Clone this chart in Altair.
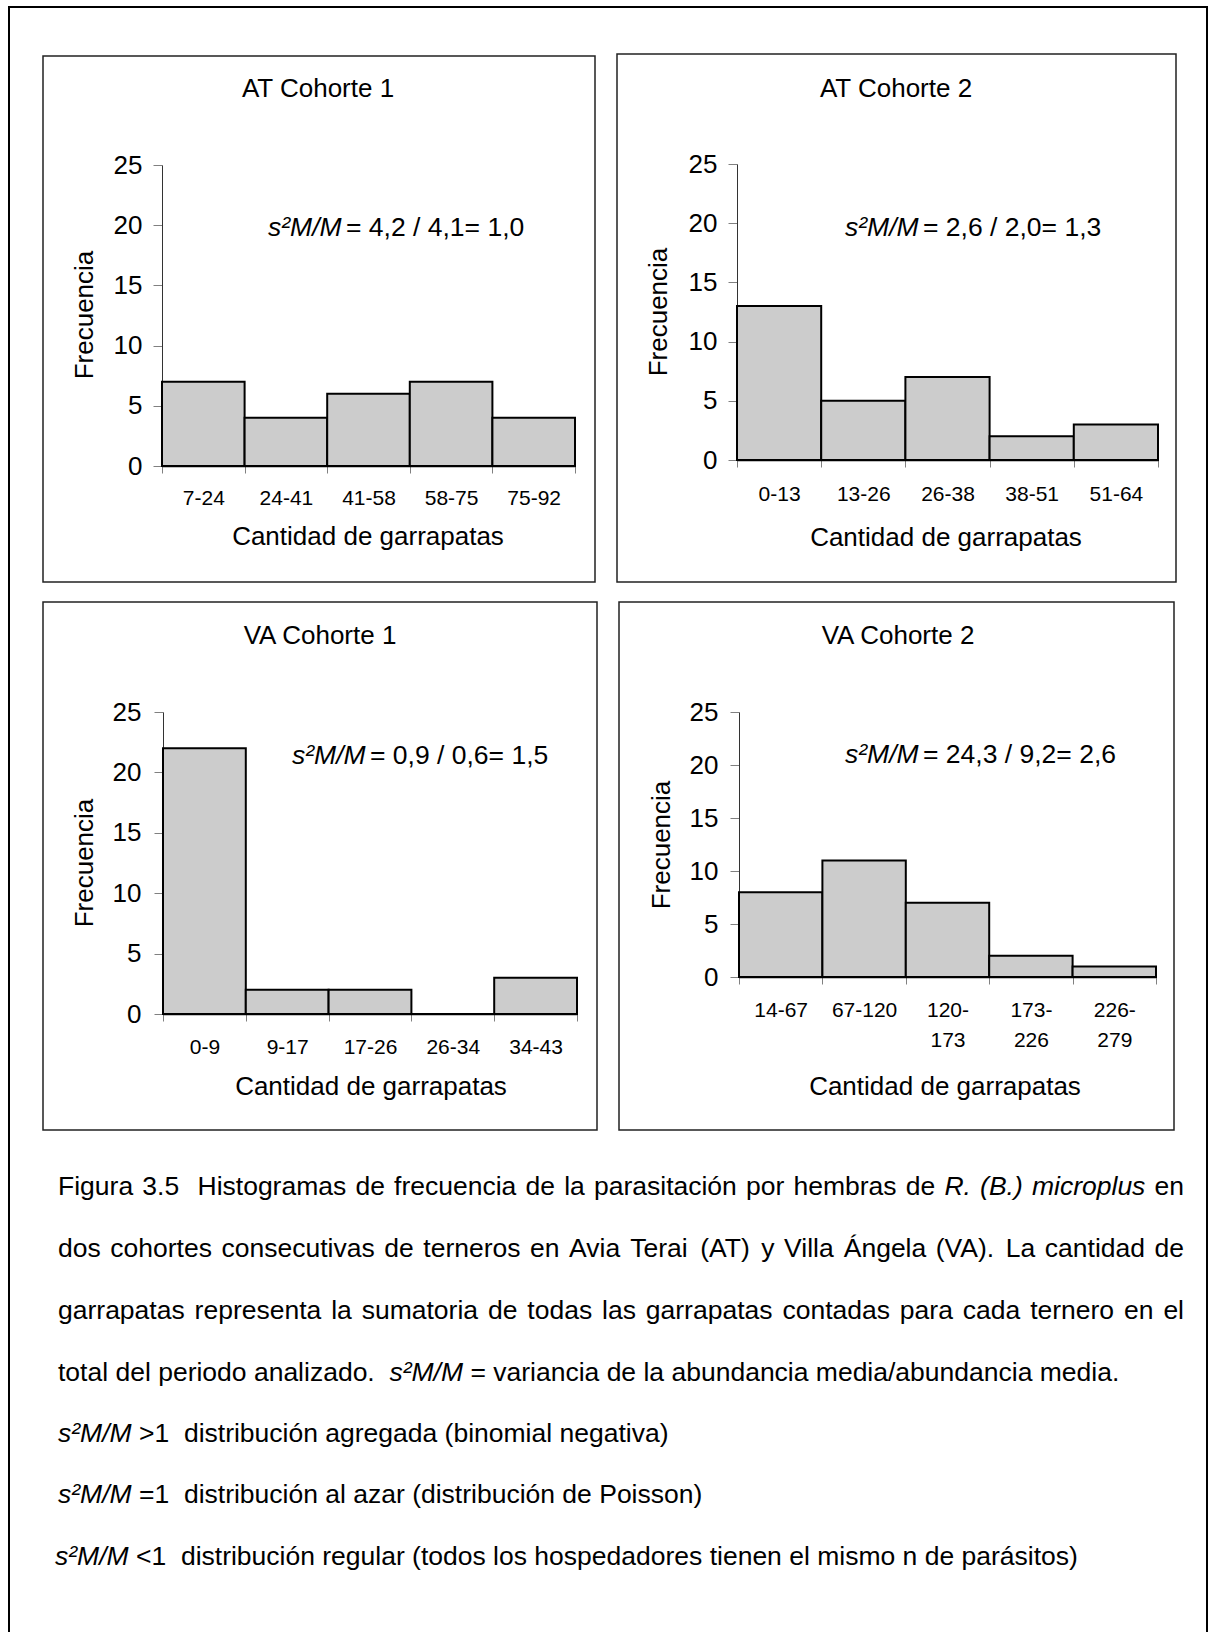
import altair as alt
import pandas as pd

FONT = "Liberation Sans"
W, H = 1216, 1632

# ---------------- data ----------------
at1_bins = ["7-24", "24-41", "41-58", "58-75", "75-92"]
at1_freq = [7, 4, 6, 7, 4]
at2_bins = ["0-13", "13-26", "26-38", "38-51", "51-64"]
at2_freq = [13, 5, 7, 2, 3]
va1_bins = ["0-9", "9-17", "17-26", "26-34", "34-43"]
va1_freq = [22, 2, 2, 0, 3]
va2_bins = ["14-67", "67-120", "120-173", "173-226", "226-279"]
va2_freq = [8, 11, 7, 2, 1]

panel_titles = ["AT Cohorte 1", "AT Cohorte 2", "VA Cohorte 1", "VA Cohorte 2"]
ratio_lhs = "s\u00b2M/M"
ratio_rhs = ["= 4,2 / 4,1= 1,0", "= 2,6 / 2,0= 1,3", "= 0,9 / 0,6= 1,5", "= 24,3 / 9,2= 2,6"]
y_ticks = [0, 5, 10, 15, 20, 25]
y_title = "Frecuencia"
x_title = "Cantidad de garrapatas"

# caption lines: list of (text, italic) runs; flag = justified
caption = [
    ([("Figura 3.5  Histogramas de frecuencia de la parasitaci\u00f3n por hembras de", False),
      ("R. (B.) microplus", True), ("en", False)], True),
    ([("dos cohortes consecutivas de terneros en Avia Terai (AT) y Villa \u00c1ngela (VA). La cantidad de", False)], True),
    ([("garrapatas representa la sumatoria de todas las garrapatas contadas para cada ternero en el", False)], True),
    ([("total del periodo analizado. ", False), ("s\u00b2M/M", True),
      ("= variancia de la abundancia media/abundancia media.", False)], False),
    ([("s\u00b2M/M", True), (">1  distribuci\u00f3n agregada (binomial negativa)", False)], False),
    ([("s\u00b2M/M", True), ("=1  distribuci\u00f3n al azar (distribuci\u00f3n de Poisson)", False)], False),
    ([("s\u00b2M/M", True), ("<1  distribuci\u00f3n regular (todos los hospedadores tienen el mismo n de par\u00e1sitos)", False)], False),
]

panel_data = [(at1_bins, at1_freq), (at2_bins, at2_freq), (va1_bins, va1_freq), (va2_bins, va2_freq)]

# ---------------- layout (pixels) ----------------
layout = [
    dict(box=(43, 56, 595, 582), xr=(162, 575), yr=(466, 165), title=(318, 89), ann=(268, 228),
         ytitle=(85, 315), xtitle=(368, 537), xpad=14, ypad=11),
    dict(box=(617, 54, 1176, 582), xr=(737, 1158), yr=(460, 164), title=(896, 89), ann=(845, 228),
         ytitle=(659, 312), xtitle=(946, 538), xpad=16, ypad=11),
    dict(box=(43, 602, 597, 1130), xr=(163, 577), yr=(1014, 712), title=(320, 636), ann=(292, 756),
         ytitle=(85, 863), xtitle=(371, 1087), xpad=15, ypad=13),
    dict(box=(619, 602, 1174, 1130), xr=(739, 1156), yr=(977, 712), title=(898, 636), ann=(845, 755),
         ytitle=(662, 845), xtitle=(945, 1087), xpad=15, ypad=12),
]

CAP_SIZE = 26.5
CAP_LEFT, CAP_RIGHT = 58, 1184
CAP_Y = [1187, 1249, 1311, 1373, 1434, 1495, 1557]
CAP_X = [58, 58, 58, 58, 58, 58, 55]

# Arial / Liberation Sans advance widths (per 1000 em) for justification
ADV = {}
for chars, w in [("ijl\u00ed", 222), (" ftI,./:;!\u00a0", 278), ("r()-\u00b2", 333),
                 ("cksvxyzJ", 500), ("abdeghnopqu0123456789\u00e1\u00e9\u00f3\u00faL?\u00f1", 556),
                 ("<=>+", 584), ("FTZ", 611), ("ABEKPSVXY\u00c1", 667), ("CDHNRUw", 722),
                 ("GOQ", 778), ("mM", 833), ("W", 944)]:
    for c in chars:
        ADV[c] = w


def text_width(s, size):
    return sum(ADV.get(c, 556) for c in s) * size / 1000.0


def layout_caption():
    rows = []
    for li, (runs, justify) in enumerate(caption):
        tokens = []
        for text, ital in runs:
            for wd in text.split(" "):
                tokens.append((wd, ital))
        sp = text_width(" ", CAP_SIZE)
        x0 = CAP_X[li]
        natural = sum(text_width(t, CAP_SIZE) for t, _ in tokens) + sp * (len(tokens) - 1)
        extra = (CAP_RIGHT - x0 - natural) / (len(tokens) - 1) if justify else 0.0
        x = x0
        for t, ital in tokens:
            if t:
                rows.append({"text": t, "x": round(x, 2), "y": CAP_Y[li], "italic": ital})
            x += text_width(t, CAP_SIZE) + sp + extra
    return pd.DataFrame(rows)


dummy = pd.DataFrame({"k": [0]})

label_expr = ("length(datum.label) > 6 ? [slice(datum.label, 0, indexof(datum.label, '-') + 1), "
              "slice(datum.label, indexof(datum.label, '-') + 1)] : datum.label")


def txt(s, x, y, size=26, align="left", style="normal", angle=0, baseline="middle"):
    return alt.Chart(dummy).mark_text(
        text=s, font=FONT, fontSize=size, fontStyle=style, align=align,
        baseline=baseline, angle=angle, color="#000000"
    ).encode(x=alt.value(x), y=alt.value(y))


def frame(x0, y0, x1, y1, color, width):
    return alt.Chart(dummy).mark_rect(
        fill="#ffffff", fillOpacity=0, stroke=color, strokeWidth=width
    ).encode(x=alt.value(x0), x2=alt.value(x1), y=alt.value(y0), y2=alt.value(y1))


def bars(bins, freq, L):
    df = pd.DataFrame({"bin": bins, "freq": freq})
    x0, x1 = L["xr"]
    y0, y25 = L["yr"]
    return alt.Chart(df).mark_bar(fill="#cccccc", stroke="#000000", strokeWidth=2).encode(
        x=alt.X("bin:N", sort=bins,
                scale=alt.Scale(range=[x0, x1], paddingInner=0, paddingOuter=0),
                axis=alt.Axis(orient="bottom", offset=y0 - H, title=None, labelAngle=0,
                              tickBand="extent", tickSize=7, tickColor="#808080", tickWidth=1,
                              domainColor="#000000", domainWidth=1.5,
                              labelFont=FONT, labelFontSize=21, labelColor="#000000",
                              labelPadding=L["xpad"], labelOverlap=False, labelLineHeight=30,
                              labelExpr=label_expr)),
        y=alt.Y("freq:Q",
                scale=alt.Scale(domain=[0, 25], range=[y0, y25], nice=False, zero=True),
                axis=alt.Axis(orient="left", offset=-x0, values=y_ticks, title=None, grid=False,
                              tickSize=9, tickColor="#808080", tickWidth=1,
                              domainColor="#333333", domainWidth=1,
                              labelFont=FONT, labelFontSize=26, labelColor="#000000",
                              labelPadding=L["ypad"])),
    )


layers = []
# outer border (its bottom edge lies below the page)
layers.append(frame(9, 7, 1207, 1660, "#000000", 2))

for i, L in enumerate(layout):
    bx0, by0, bx1, by1 = L["box"]
    layers.append(frame(bx0, by0, bx1, by1, "#222222", 1.5))
    layers.append(bars(panel_data[i][0], panel_data[i][1], L))
    layers.append(txt(panel_titles[i], L["title"][0], L["title"][1], size=26, align="center"))
    ax, ay = L["ann"]
    layers.append(txt(ratio_lhs, ax, ay, size=26.5, style="italic"))
    layers.append(txt(ratio_rhs[i], ax + 78, ay, size=26.5))
    layers.append(txt(y_title, L["ytitle"][0], L["ytitle"][1], size=26, align="center", angle=270))
    layers.append(txt(x_title, L["xtitle"][0], L["xtitle"][1], size=26, align="center"))

# caption, word by word (justified lines)
cap = layout_caption()
for ital in (False, True):
    sub = cap[cap["italic"] == ital][["text", "x", "y"]]
    layers.append(
        alt.Chart(sub).mark_text(
            font=FONT, fontSize=CAP_SIZE, fontStyle="italic" if ital else "normal",
            align="left", baseline="middle", color="#000000"
        ).encode(
            x=alt.X("x:Q", scale=None, axis=None),
            y=alt.Y("y:Q", scale=None, axis=None),
            text="text:N",
        )
    )

chart = alt.layer(*layers).properties(
    width=W, height=H, autosize=alt.AutoSizeParams(type="none"), padding=0, background="#ffffff"
).resolve_scale(x="independent", y="independent").resolve_axis(
    x="independent", y="independent"
).configure_view(stroke=None)

chart.save("out.html", embed_options={"renderer": "svg", "actions": False})
